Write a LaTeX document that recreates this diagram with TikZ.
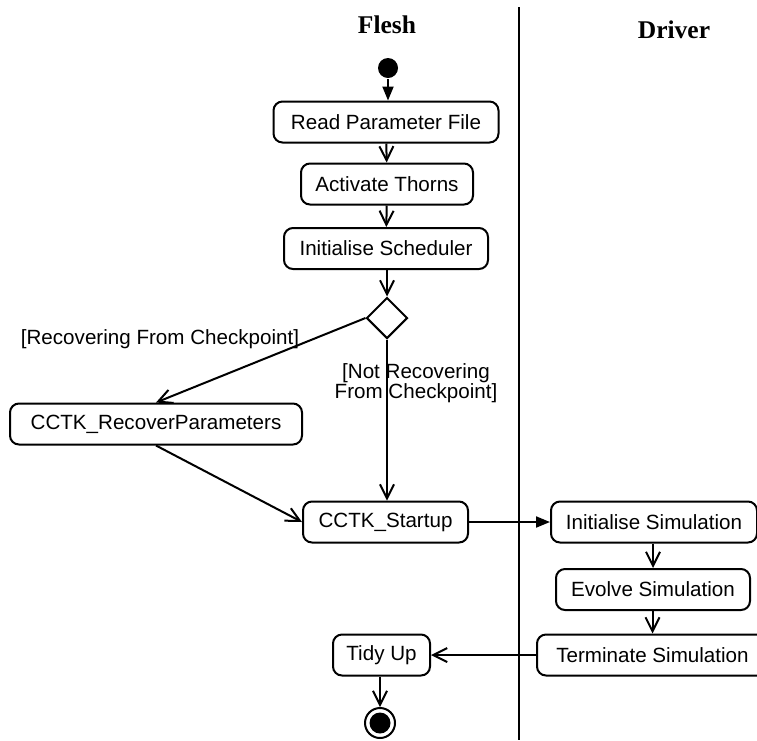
\documentclass[tikz,border=0pt]{standalone}
\usepackage{fontspec}
\setmainfont{Liberation Sans}
\newfontfamily\lanefont{Liberation Serif}
\usetikzlibrary{arrows.meta,shapes.geometric}

\begin{document}
\begin{tikzpicture}[x=1pt,y=-1pt,line width=2pt]
	\tikzstyle{activity} = [draw=black, rounded corners=9pt, minimum height=41pt, inner sep=0pt, font=\fontsize{20.6}{24}\selectfont]
	\tikzstyle{flow} = [draw=black, -{Straight Barb[length=14pt,width=14pt]}]
	\tikzstyle{call} = [draw=black, -{Triangle[length=14pt,width=11pt]}]
	\tikzstyle{guard} = [font=\fontsize{20.6}{18.5}\selectfont, align=center, inner sep=0pt]
	\tikzstyle{lane} = [font=\lanefont\bfseries\fontsize{25.5}{30}\selectfont]
	\clip (0,0) rectangle (757,740);
		% swimlanes
		\node[lane] (flesh) at (387,25) {Flesh};
		\node[lane] (driver) at (674,30) {Driver};
		\draw (519,7) -- (519,740);
		% start and end
		\node[circle, fill=black, minimum size=20pt, inner sep=0pt] (start) at (388,68) {};
		\node[circle, draw=black, minimum size=30pt, inner sep=0pt] (stop) at (380,723) {};
		\fill[black] (stop) circle (10.5pt);
		% activities
		\node[activity, minimum width=225pt] (read)      at (386,122)   {Read Parameter File};
		\node[activity, minimum width=172pt] (thorns)    at (387,184)   {Activate Thorns};
		\node[activity, minimum width=204pt] (sched)     at (386,248.5) {Initialise Scheduler};
		\node[draw=black, diamond, aspect=1, minimum size=41pt, inner sep=0pt] (choice) at (387,318) {};
		\node[activity, minimum width=292pt] (recover)   at (156,424)   {CCTK\_RecoverParameters};
		\node[activity, minimum width=165pt] (startup)   at (385.5,522) {CCTK\_Startup};
		\node[activity, minimum width=206pt] (initsim)   at (654,522)   {Initialise Simulation};
		\node[activity, minimum width=194pt] (evolve)    at (653,589.5) {Evolve Simulation};
		\node[activity, minimum width=231pt] (terminate) at (652.5,655) {Terminate Simulation};
		\node[activity, minimum width=97pt]  (tidy)      at (381.5,655) {Tidy Up};
		% guards
		\node[guard] (yes) at (160,339) {[Recovering From Checkpoint]};
		\node[guard] (no)  at (416,383) {[Not Recovering\\From Checkpoint]};
	\draw[call] (start) -- (read.north -| start);
	\draw[flow] (read) -- (thorns);
	\draw[flow] (thorns) -- (sched);
	\draw[flow] (sched.south -| choice) -- (choice.north);
	\draw[flow] (choice.west) -- (recover.north);
	\draw[flow] (choice.south) -- (choice.south |- startup.north);
	\draw[flow] (recover.south) -- (startup.west);
	\draw[call] (startup.east) -- (initsim.west);
	\draw[flow] (initsim.south -| evolve) -- (evolve.north);
	\draw[flow] (evolve.south -| terminate) -- (terminate.north);
	\draw[flow] (terminate.west) -- (tidy.east);
	\draw[flow] (tidy.south -| stop) -- (stop.north);
\end{tikzpicture}
\end{document}
